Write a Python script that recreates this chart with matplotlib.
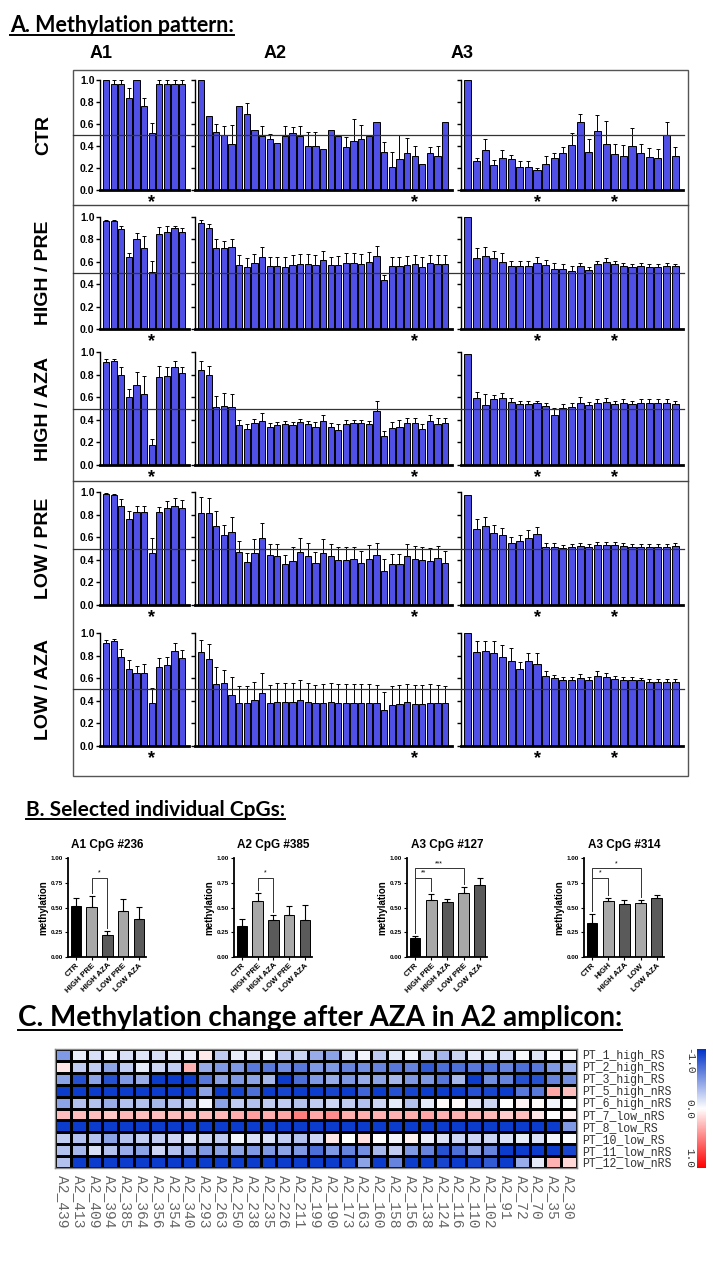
import numpy as np
import matplotlib
matplotlib.use("Agg")
import matplotlib.pyplot as plt
from matplotlib.colors import LinearSegmentedColormap
from matplotlib.lines import Line2D
from matplotlib.patches import Rectangle

# ---------------- DATA ----------------
row_names = ["CTR", "HIGH / PRE", "HIGH / AZA", "LOW / PRE", "LOW / AZA"]
amplicons = ["A1", "A2", "A3"]

ctr_a1 = [1.0, 0.96, 0.96, 0.84, 1.0, 0.76, 0.52, 0.96, 0.96, 0.96, 0.96]
ctr_a1_err = [0, 0.04, 0.04, 0.09, 0, 0.08, 0.09, 0.04, 0.04, 0.04, 0.04]
ctr_a2 = [1.0, 0.67, 0.53, 0.50, 0.42, 0.76, 0.69, 0.55, 0.49, 0.46, 0.43, 0.49, 0.52, 0.49, 0.40, 0.40, 0.37,
          0.55, 0.49, 0.39, 0.45, 0.46, 0.49, 0.62, 0.35, 0.21, 0.28, 0.34, 0.31, 0.24, 0.34, 0.31, 0.62]
ctr_a2_err = [0, 0, 0.07, 0.08, 0.17, 0, 0.10, 0, 0.09, 0.05, 0, 0.09, 0.05, 0.09, 0.13, 0.13, 0,
              0, 0, 0.09, 0.20, 0.13, 0, 0, 0.09, 0.14, 0.22, 0.13, 0.09, 0, 0.05, 0.09, 0]
ctr_a3 = [1.0, 0.26, 0.36, 0.23, 0.29, 0.28, 0.21, 0.21, 0.18, 0.24, 0.29, 0.34, 0.41, 0.62, 0.35, 0.54, 0.42,
          0.33, 0.31, 0.40, 0.34, 0.30, 0.29, 0.50, 0.31]
ctr_a3_err = [0, 0.03, 0.10, 0.04, 0.07, 0.04, 0.05, 0.05, 0.02, 0.07, 0.05, 0.05, 0.11, 0.07, 0.11, 0.14, 0.21,
              0.09, 0.10, 0.16, 0.08, 0.08, 0.08, 0.12, 0.08]

hpre_a1 = [0.96, 0.96, 0.89, 0.64, 0.80, 0.72, 0.51, 0.85, 0.87, 0.90, 0.87]
hpre_a1_err = [0.01, 0.01, 0.03, 0.04, 0.06, 0.11, 0.10, 0.06, 0.05, 0.02, 0.03]
hpre_a2 = [0.95, 0.90, 0.72, 0.72, 0.73, 0.57, 0.55, 0.59, 0.64, 0.56, 0.56, 0.55, 0.57, 0.58, 0.58, 0.57, 0.62,
           0.57, 0.57, 0.59, 0.59, 0.58, 0.60, 0.65, 0.44, 0.56, 0.56, 0.57, 0.58, 0.55, 0.59, 0.58, 0.58]
hpre_a2_err = [0.02, 0.04, 0.08, 0.07, 0.07, 0.09, 0.08, 0.08, 0.09, 0.08, 0.08, 0.09, 0.09, 0.09, 0.09, 0.09, 0.08,
               0.07, 0.08, 0.09, 0.09, 0.09, 0.09, 0.09, 0.04, 0.08, 0.08, 0.08, 0.08, 0.09, 0.07, 0.08, 0.08]
hpre_a3 = [1.0, 0.63, 0.65, 0.63, 0.60, 0.56, 0.56, 0.56, 0.59, 0.57, 0.54, 0.54, 0.52, 0.56, 0.53, 0.58, 0.60,
           0.58, 0.56, 0.55, 0.56, 0.55, 0.55, 0.56, 0.56]
hpre_a3_err = [0, 0.09, 0.08, 0.07, 0.08, 0.05, 0.05, 0.05, 0.05, 0.05, 0.05, 0.04, 0.04, 0.03, 0.02, 0.03, 0.03,
               0.03, 0.03, 0.03, 0.03, 0.03, 0.03, 0.03, 0.02]

haza_a1 = [0.91, 0.92, 0.80, 0.60, 0.71, 0.63, 0.18, 0.78, 0.79, 0.87, 0.81]
haza_a1_err = [0.03, 0.02, 0.07, 0.07, 0.11, 0.16, 0.05, 0.10, 0.08, 0.05, 0.06]
haza_a2 = [0.84, 0.80, 0.51, 0.52, 0.51, 0.35, 0.32, 0.37, 0.39, 0.34, 0.35, 0.36, 0.35, 0.38, 0.36, 0.34, 0.39,
           0.34, 0.31, 0.36, 0.37, 0.37, 0.36, 0.48, 0.26, 0.33, 0.34, 0.37, 0.37, 0.32, 0.39, 0.36, 0.37]
haza_a2_err = [0.08, 0.08, 0.10, 0.12, 0.12, 0.05, 0.04, 0.04, 0.07, 0.03, 0.03, 0.03, 0.03, 0.03, 0.03, 0.04, 0.05,
               0.03, 0.05, 0.04, 0.03, 0.03, 0.03, 0.09, 0.04, 0.05, 0.06, 0.05, 0.05, 0.04, 0.05, 0.06, 0.05]
haza_a3 = [0.98, 0.59, 0.53, 0.58, 0.59, 0.56, 0.54, 0.54, 0.55, 0.52, 0.44, 0.50, 0.51, 0.55, 0.53, 0.55, 0.56,
           0.54, 0.55, 0.54, 0.55, 0.55, 0.55, 0.55, 0.54]
haza_a3_err = [0, 0.06, 0.10, 0.04, 0.05, 0.03, 0.03, 0.03, 0.02, 0.03, 0.06, 0.04, 0.04, 0.05, 0.03, 0.03, 0.03,
               0.03, 0.03, 0.03, 0.03, 0.03, 0.03, 0.03, 0.03]

lpre_a1 = [0.98, 0.97, 0.88, 0.76, 0.82, 0.82, 0.46, 0.82, 0.86, 0.88, 0.86]
lpre_a1_err = [0.01, 0.01, 0.06, 0.07, 0.06, 0.06, 0.13, 0.05, 0.06, 0.07, 0.07]
lpre_a2 = [0.81, 0.81, 0.70, 0.62, 0.65, 0.47, 0.38, 0.46, 0.59, 0.44, 0.43, 0.36, 0.39, 0.47, 0.43, 0.37, 0.46,
           0.43, 0.40, 0.40, 0.41, 0.37, 0.41, 0.44, 0.30, 0.36, 0.36, 0.43, 0.41, 0.40, 0.39, 0.42, 0.37]
lpre_a2_err = [0.15, 0.14, 0.13, 0.09, 0.13, 0.10, 0.08, 0.12, 0.14, 0.10, 0.11, 0.08, 0.12, 0.12, 0.12, 0.10, 0.12,
               0.11, 0.11, 0.11, 0.10, 0.11, 0.12, 0.11, 0.11, 0.09, 0.09, 0.11, 0.11, 0.11, 0.11, 0.10, 0.11]
lpre_a3 = [0.97, 0.67, 0.70, 0.64, 0.62, 0.55, 0.57, 0.59, 0.63, 0.51, 0.51, 0.50, 0.51, 0.52, 0.51, 0.53, 0.53,
           0.53, 0.52, 0.51, 0.51, 0.51, 0.51, 0.51, 0.52]
lpre_a3_err = [0, 0.09, 0.08, 0.07, 0.06, 0.05, 0.05, 0.07, 0.06, 0.04, 0.04, 0.03, 0.03, 0.03, 0.03, 0.03, 0.03,
               0.03, 0.03, 0.03, 0.03, 0.03, 0.03, 0.03, 0.03]

laza_a1 = [0.91, 0.93, 0.79, 0.68, 0.65, 0.65, 0.38, 0.70, 0.72, 0.84, 0.78]
laza_a1_err = [0.03, 0.02, 0.07, 0.08, 0.06, 0.08, 0.13, 0.08, 0.07, 0.07, 0.07]
laza_a2 = [0.83, 0.77, 0.55, 0.56, 0.45, 0.38, 0.38, 0.41, 0.47, 0.38, 0.39, 0.39, 0.39, 0.41, 0.39, 0.38, 0.38,
           0.39, 0.38, 0.38, 0.38, 0.38, 0.38, 0.38, 0.32, 0.36, 0.37, 0.39, 0.37, 0.37, 0.38, 0.38, 0.38]
laza_a2_err = [0.11, 0.13, 0.15, 0.11, 0.16, 0.15, 0.15, 0.16, 0.18, 0.16, 0.17, 0.17, 0.17, 0.17, 0.17, 0.16, 0.17,
               0.17, 0.17, 0.17, 0.17, 0.17, 0.17, 0.16, 0.16, 0.17, 0.17, 0.16, 0.17, 0.17, 0.17, 0.16, 0.15]
laza_a3 = [1.0, 0.83, 0.84, 0.82, 0.79, 0.75, 0.68, 0.75, 0.73, 0.62, 0.60, 0.58, 0.58, 0.60, 0.58, 0.62, 0.61,
           0.59, 0.58, 0.58, 0.58, 0.57, 0.57, 0.57, 0.57]
laza_a3_err = [0, 0.10, 0.09, 0.11, 0.10, 0.12, 0.06, 0.07, 0.09, 0.04, 0.03, 0.03, 0.03, 0.04, 0.03, 0.04, 0.04,
               0.03, 0.03, 0.03, 0.02, 0.02, 0.02, 0.02, 0.02]

star_a1 = [6]
star_a2 = [28]
star_a3 = [8, 17]

# Panel B
b_titles = ["A1 CpG #236", "A2 CpG #385", "A3 CpG #127", "A3 CpG #314"]
b_groups = ["CTR", "HIGH PRE", "HIGH AZA", "LOW PRE", "LOW AZA"]
b_groups_4 = ["CTR", "HIGH", "HIGH AZA", "LOW", "LOW AZA"]
b1_vals = [0.52, 0.51, 0.22, 0.46, 0.38]
b1_err = [0.08, 0.11, 0.04, 0.13, 0.13]
b2_vals = [0.31, 0.57, 0.37, 0.42, 0.37]
b2_err = [0.07, 0.08, 0.05, 0.10, 0.16]
b3_vals = [0.19, 0.58, 0.56, 0.65, 0.73]
b3_err = [0.02, 0.06, 0.03, 0.06, 0.07]
b4_vals = [0.34, 0.57, 0.54, 0.55, 0.60]
b4_err = [0.09, 0.03, 0.04, 0.03, 0.03]
b1_sig = [(1, 2, 0.80, "*")]
b2_sig = [(1, 2, 0.80, "*")]
b3_sig = [(0, 1, 0.80, "**"), (0, 3, 0.90, "***")]
b4_sig = [(0, 1, 0.80, "*"), (0, 3, 0.90, "*")]

# Panel C
hm_rows = ["PT_1_high_RS", "PT_2_high_RS", "PT_3_high_RS", "PT_5_high_nRS", "PT_6_high_nRS",
           "PT_7_low_nRS", "PT_8_low_RS", "PT_10_low_RS", "PT_11_low_nRS", "PT_12_low_nRS"]
hm_cols = ["A2_439", "A2_413", "A2_409", "A2_394", "A2_385", "A2_364", "A2_356", "A2_354", "A2_340",
           "A2_293", "A2_263", "A2_250", "A2_238", "A2_235", "A2_226", "A2_211", "A2_199", "A2_190",
           "A2_173", "A2_163", "A2_160", "A2_158", "A2_156", "A2_138", "A2_124", "A2_116", "A2_110",
           "A2_102", "A2_91", "A2_72", "A2_70", "A2_35", "A2_30"]
pt1 = [-0.5, -0.08, -0.15, -0.07, -0.15, -0.12, -0.15, -0.1, -0.08, 0.08, -0.25, -0.08, -0.12, -0.05, -0.25, -0.2,
       -0.4, -0.45, -0.15, -0.05, -0.25, -0.1, -0.05, -0.2, -0.35, -0.2, -0.1, -0.1, -0.15, -0.03, -0.12, -0.02, 0.0]
pt2 = [0.1, -0.25, -0.25, -0.45, -0.25, -0.1, -0.2, -0.25, 0.3, -0.4, -0.5, -0.5, -0.65, -0.65, -0.55, -0.65,
       -0.5, -0.5, -0.6, -0.55, -0.6, -0.65, -0.6, -0.8, -0.7, -0.7, -0.65, -0.7, -0.6, -0.7, -0.65, -0.5, -0.35]
pt3 = [-0.45, -0.85, -0.45, -0.85, -0.5, -0.4, -0.95, -0.95, -0.95, -0.65, -0.45, -0.5, -0.45, -0.35, -0.95, -0.7,
       -0.5, -0.4, -0.5, -0.4, -0.45, -0.35, -0.5, -0.5, -0.65, -0.35, -0.95, -0.55, -0.6, -0.85, -0.85, -0.6, -0.55]
pt5 = [-0.95, -0.95, -0.95, -0.95, -0.95, -0.95, -0.95, -0.95, -0.95, -0.45, -0.95, -0.9, -0.7, -0.95, -0.9, -0.95,
       -0.95, -0.9, -0.95, -0.75, -0.95, -0.85, -0.9, -0.95, -0.95, -0.95, -0.85, -0.9, -0.95, -0.65, -0.65, 0.35, 0.25]
pt6 = [-0.45, -0.3, -0.3, -0.4, -0.3, -0.3, -0.35, -0.3, -0.25, -0.05, -0.45, -0.25, -0.3, -0.25, -0.25, -0.3,
       -0.25, -0.2, -0.25, -0.3, -0.2, -0.1, -0.3, -0.1, 0.02, 0.03, -0.12, -0.2, 0.0, 0.05, 0.02, -0.05, 0.0]
pt7 = [0.25, 0.25, 0.25, 0.22, 0.28, 0.25, 0.25, 0.25, 0.28, 0.25, 0.28, 0.32, 0.38, 0.32, 0.35, 0.5,
       0.35, 0.45, 0.32, 0.32, 0.3, 0.3, 0.32, 0.35, 0.3, 0.3, 0.28, 0.28, 0.2, 0.25, 0.1, 0.0, 0.05]
pt8 = [-0.95, -0.95, -0.95, -0.95, -0.95, -0.95, -0.95, -0.95, -0.95, -0.95, -0.95, -0.95, -0.95, -0.95, -0.95, -0.95,
       -0.95, -0.95, -0.95, -0.95, -0.95, -0.95, -0.95, -0.95, -0.95, -0.95, -0.95, -0.95, -0.95, -0.95, -0.95, -0.95, -0.5]
pt10 = [-0.25, -0.3, -0.3, -0.45, -0.3, -0.25, -0.25, -0.2, -0.12, -0.2, -0.25, -0.05, -0.15, -0.15, -0.25, -0.3,
        -0.2, 0.1, 0.0, 0.12, 0.0, -0.05, 0.05, -0.08, -0.15, -0.2, -0.2, -0.2, -0.15, -0.1, -0.15, -0.05, -0.02]
pt11 = [-0.3, -0.35, -0.15, -0.3, -0.4, -0.45, -0.2, -0.3, -0.4, -0.5, -0.45, -0.45, -0.5, -0.5, -0.45, -0.5,
        -0.7, -0.5, -0.6, -0.55, -0.35, -0.25, -0.5, -0.6, -0.85, -0.7, -0.45, -0.6, -0.95, -0.95, -0.95, -0.95, -0.9]
pt12 = [-0.3, -0.95, -0.95, -0.95, -0.95, -0.95, -0.95, -0.95, -0.95, -0.95, -0.95, -0.95, -0.95, -0.95, -0.95, -0.95,
        -0.95, -0.95, -0.9, -0.45, -0.95, -0.6, -0.95, -0.95, -0.9, -0.95, -0.9, -0.8, -0.95, -0.4, -0.1, 0.3, 0.15]

# ---------------- FIGURE ----------------
W, H = 713, 1266
fig = plt.figure(figsize=(W / 100, H / 100), dpi=100)
ARIAL = "Liberation Sans"
MONO = "Liberation Mono"
TITLEF = "Lato"


def add_ax(x0, ytop, x1, ybot):
    return fig.add_axes([x0 / W, 1 - ybot / H, (x1 - x0) / W, (ybot - ytop) / H])


def fx(x):
    return x / W


def fy(y):
    return 1 - y / H


BAR_COLOR = "#5050e6"

row_layout = [(80, 190), (217, 329), (352, 465), (492, 605), (633, 746)]
amp_x = [(100, 189), (195, 452), (461, 683)]
row_data = [
    [(ctr_a1, ctr_a1_err), (ctr_a2, ctr_a2_err), (ctr_a3, ctr_a3_err)],
    [(hpre_a1, hpre_a1_err), (hpre_a2, hpre_a2_err), (hpre_a3, hpre_a3_err)],
    [(haza_a1, haza_a1_err), (haza_a2, haza_a2_err), (haza_a3, haza_a3_err)],
    [(lpre_a1, lpre_a1_err), (lpre_a2, lpre_a2_err), (lpre_a3, lpre_a3_err)],
    [(laza_a1, laza_a1_err), (laza_a2, laza_a2_err), (laza_a3, laza_a3_err)],
]
stars = [star_a1, star_a2, star_a3]

# Box and separators
fig.add_artist(Rectangle((fx(73), fy(776)), fx(688) - fx(73), fy(70) - fy(776), transform=fig.transFigure,
                         fill=False, edgecolor="#555555", lw=1.0))
for ys in (205, 481):
    fig.add_artist(Line2D([fx(73), fx(688)], [fy(ys), fy(ys)], transform=fig.transFigure, color="#444444", lw=1.0))

for r, (ytop, ybot) in enumerate(row_layout):
    for a in range(3):
        vals, errs = row_data[r][a]
        vals = np.array(vals)
        errs = np.array(errs)
        n = len(vals)
        x0, x1 = amp_x[a]
        ax = add_ax(x0, ytop, x1, ybot)
        xs = np.arange(n)
        ax.bar(xs, vals, width=0.82, color=BAR_COLOR, edgecolor="black", linewidth=0.7, zorder=2)
        m = errs > 0
        ax.errorbar(xs[m], vals[m], yerr=[np.zeros(m.sum()), errs[m]], fmt="none", ecolor="black",
                    elinewidth=0.7, capsize=1.4, capthick=0.7, zorder=3, clip_on=False)
        ax.set_xlim(-0.8, n - 0.1)
        ax.set_ylim(0, 1.0)
        ax.spines["top"].set_visible(False)
        ax.spines["right"].set_visible(False)
        ax.spines["bottom"].set_linewidth(2.0)
        ax.spines["left"].set_linewidth(1.0)
        ax.set_xticks([])
        ax.set_yticks([0, 0.2, 0.4, 0.6, 0.8, 1.0])
        ax.tick_params(axis="y", length=3, width=1, pad=1)
        ax.patch.set_alpha(0)
        if a == 0:
            ax.set_yticklabels(["0.0", "0.2", "0.4", "0.6", "0.8", "1.0"], fontsize=7.5,
                               fontweight="bold", family=ARIAL)
        else:
            ax.set_yticklabels([])
        for s in stars[a]:
            ax.text(s, -0.11, "*", ha="center", va="center", fontsize=13, fontweight="bold",
                    family=ARIAL, clip_on=False)
    # reference line at 0.5
    yref = ybot - 0.5 * (ybot - ytop)
    fig.add_artist(Line2D([fx(73), fx(684)], [fy(yref), fy(yref)], transform=fig.transFigure,
                          color="#333333", lw=0.9, zorder=5))
    fig.text(fx(44), fy((ytop + ybot) / 2), row_names[r], rotation=90, ha="center", va="center",
             fontsize=14, fontweight="bold", family=ARIAL)

for a, xc in enumerate([101, 275, 462]):
    fig.text(fx(xc), fy(53), amplicons[a], ha="center", va="center", fontsize=13, fontweight="bold", family=ARIAL)

titles = []
titles.append(fig.text(fx(10), fy(25), "A. Methylation pattern:", ha="left", va="center", fontsize=15.5,
                       fontweight="bold", family=TITLEF))
titles.append(fig.text(fx(26), fy(810), "B. Selected individual CpGs:", ha="left", va="center", fontsize=15,
                       fontweight="bold", family=TITLEF))
titles.append(fig.text(fx(18), fy(1018), "C. Methylation change after AZA in A2 amplicon:", ha="left",
                       va="center", fontsize=20, fontweight="bold", family=TITLEF))

# ---------------- PANEL B ----------------
b_colors = ["#000000", "#a8a8a8", "#5a5a5a", "#a8a8a8", "#5a5a5a"]
b_axes_x = [(68, 146), (234, 312), (407, 487), (584, 664)]
b_sets = [(b1_vals, b1_err, b_groups, b1_sig), (b2_vals, b2_err, b_groups, b2_sig),
          (b3_vals, b3_err, b_groups, b3_sig), (b4_vals, b4_err, b_groups_4, b4_sig)]
for i, (vals, errs, groups, sigs) in enumerate(b_sets):
    x0, x1 = b_axes_x[i]
    ax = add_ax(x0, 858, x1, 957)
    xs = np.arange(5)
    ax.bar(xs, vals, width=0.66, color=b_colors, edgecolor="black", linewidth=0.7, zorder=2)
    ax.errorbar(xs, vals, yerr=[np.zeros(5), errs], fmt="none", ecolor="black", elinewidth=0.8,
                capsize=2, capthick=0.8, zorder=3)
    ax.set_xlim(-0.5, 4.45)
    ax.set_ylim(0, 1.0)
    ax.spines["top"].set_visible(False)
    ax.spines["right"].set_visible(False)
    ax.spines["bottom"].set_linewidth(1.3)
    ax.spines["left"].set_linewidth(1.3)
    ax.set_yticks([0, 0.25, 0.5, 0.75, 1.0])
    ax.set_yticklabels(["0.00", "0.25", "0.50", "0.75", "1.00"], fontsize=4.5, fontweight="bold", family=ARIAL)
    ax.tick_params(axis="y", length=2.5, width=0.8, pad=1)
    ax.tick_params(axis="x", length=2.5, width=0.8, pad=1)
    ax.set_xticks(xs)
    ax.set_xticklabels(groups, rotation=45, ha="right", rotation_mode="anchor", fontsize=5.8,
                       fontweight="bold", family=ARIAL)
    ax.set_ylabel("methylation", fontsize=7, fontweight="bold", family=ARIAL, labelpad=2)
    ax.set_title(b_titles[i], fontsize=8.5, fontweight="bold", family=ARIAL, pad=7)
    for (g1, g2, yb, lab) in sigs:
        top1 = vals[g1] + errs[g1] + 0.03
        top2 = vals[g2] + errs[g2] + 0.03
        ax.plot([g1, g1, g2, g2], [top1, yb, yb, top2], color="#333333", lw=0.7, clip_on=False)
        ax.text((g1 + g2) / 2, yb + 0.01, lab, ha="center", va="bottom", fontsize=5, family=ARIAL)

# ---------------- PANEL C ----------------
hm = np.array([pt1, pt2, pt3, pt5, pt6, pt7, pt8, pt10, pt11, pt12])
cmap = LinearSegmentedColormap.from_list("bwr_c", ["#0032c8", "#ffffff", "#ff0000"])
hx0, hx1, hy0, hy1 = 55, 577, 1049, 1168
axh = add_ax(hx0, hy0, hx1, hy1)
axh.pcolormesh(np.arange(len(hm_cols) + 1), np.arange(len(hm_rows) + 1), hm, cmap=cmap, vmin=-1, vmax=1,
               edgecolors="black", linewidth=0.9)
axh.set_xlim(0, len(hm_cols))
axh.set_ylim(len(hm_rows), 0)
for sp in axh.spines.values():
    sp.set_color("#888888")
    sp.set_linewidth(1.0)
axh.set_yticks(np.arange(len(hm_rows)) + 0.5)
axh.set_yticklabels(hm_rows, fontsize=8.3, family=MONO, color="#333333")
axh.yaxis.tick_right()
axh.tick_params(axis="y", length=0, pad=4)
axh.set_xticks(np.arange(len(hm_cols)) + 0.5)
axh.set_xticklabels(hm_cols, rotation=-90, fontsize=10.5, family=MONO, color="#666666", va="top", ha="center")
axh.tick_params(axis="x", length=0, pad=5)

axc = add_ax(697, hy0, 706, hy1)
grad = np.linspace(-1, 1, 256).reshape(-1, 1)
axc.imshow(grad, aspect="auto", cmap=cmap, vmin=-1, vmax=1, extent=[0, 1, 1, -1])
axc.set_ylim(1, -1)
axc.set_xticks([])
axc.set_yticks([])
for sp in axc.spines.values():
    sp.set_visible(False)
for lab, yy in (("-1.0", hy0 + 12), ("0.0", (hy0 + hy1) / 2), ("1.0", hy1 - 10)):
    fig.text(fx(689), fy(yy), lab, rotation=-90, ha="center", va="center", fontsize=8, family=MONO,
             color="#333333")

# underline titles
fig.canvas.draw()
r = fig.canvas.get_renderer()
for t in titles:
    bb = t.get_window_extent(r)
    yline = bb.y0 + 1
    fig.add_artist(Line2D([bb.x0 / W, bb.x1 / W], [yline / H, yline / H], transform=fig.transFigure,
                          color="black", lw=1.4))

fig.savefig("out.png", dpi=100)
